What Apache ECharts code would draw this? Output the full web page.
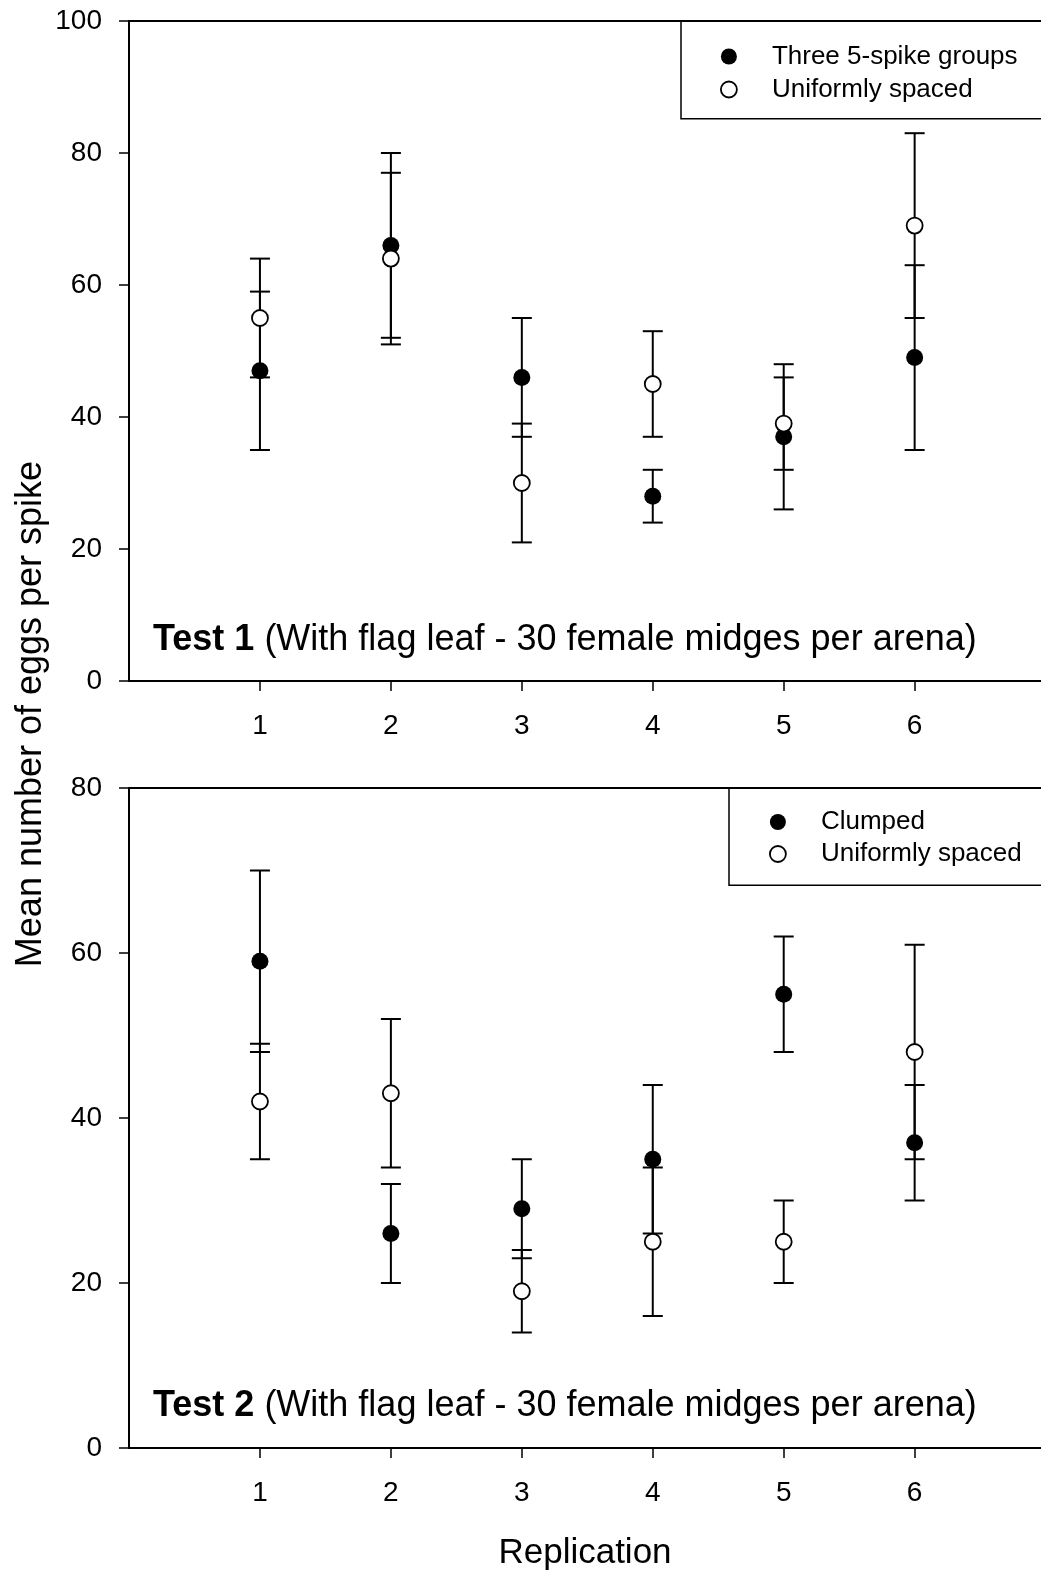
<!DOCTYPE html>
<html>
<head>
<meta charset="utf-8">
<script src="https://cdn.jsdelivr.net/npm/echarts@6/dist/echarts.min.js"></script>
<style>
  html, body { margin: 0; padding: 0; background: #fff; }
  #chart { width: 1041px; height: 1572px; }
</style>
</head>
<body>
<div id="chart"></div>
<script>
// replication numbers (x positions)
var reps = [1, 2, 3, 4, 5, 6];
var tickLabels = [1, 2, 3, 4, 5, 6];

// Test 1 - means and error (half-width)
var t1Grouped = [47, 66, 46, 28, 37, 49];
var t1GroupedErr = [12, 14, 9, 4, 11, 14];
var t1Uniform = [55, 64, 30, 45, 39, 69];
var t1UniformErr = [9, 13, 9, 8, 7, 14];

// Test 2
var t2Clumped = [59, 26, 29, 35, 55, 37];
var t2ClumpedErr = [11, 6, 6, 9, 7, 7];
var t2Uniform = [42, 43, 19, 25, 25, 48];
var t2UniformErr = [7, 9, 5, 9, 5, 13];

var FONT = '"Liberation Sans", Arial, Helvetica, sans-serif';
var X_MAX = 6.965; // axis runs off the right edge of the figure

function points(vals) {
  return reps.map(function (r, i) { return [r, vals[i]]; });
}
function bars(vals, errs) {
  return reps.map(function (r, i) { return [r, vals[i] - errs[i], vals[i] + errs[i]]; });
}

// vertical error bar with caps
function renderErrorBar(params, api) {
  var x = api.value(0);
  var hi = api.coord([x, api.value(2)]);
  var lo = api.coord([x, api.value(1)]);
  var w = 10;
  var st = { stroke: '#000', lineWidth: 2 };
  return {
    type: 'group',
    children: [
      { type: 'line', shape: { x1: hi[0], y1: hi[1], x2: lo[0], y2: lo[1] }, style: st },
      { type: 'line', shape: { x1: hi[0] - w, y1: hi[1], x2: hi[0] + w, y2: hi[1] }, style: st },
      { type: 'line', shape: { x1: lo[0] - w, y1: lo[1], x2: lo[0] + w, y2: lo[1] }, style: st }
    ]
  };
}

function xAxisFor(gridIndex, extra) {
  var ax = {
    type: 'value',
    gridIndex: gridIndex,
    min: 0,
    max: X_MAX,
    interval: 1,
    splitLine: { show: false },
    axisLine: { lineStyle: { color: '#000', width: 2 } },
    axisTick: { length: 10, lineStyle: { color: '#000', width: 1.5 }, customValues: tickLabels },
    axisLabel: { color: '#000', fontSize: 28, fontFamily: FONT, margin: 31, customValues: tickLabels }
  };
  for (var k in extra) ax[k] = extra[k];
  return ax;
}

// plain line along the top of a panel
function topLine(gridIndex) {
  return {
    type: 'value',
    gridIndex: gridIndex,
    position: 'top',
    min: 0,
    max: X_MAX,
    splitLine: { show: false },
    axisLine: { show: true, lineStyle: { color: '#000', width: 2 } },
    axisTick: { show: false },
    axisLabel: { show: false }
  };
}

function yAxisFor(gridIndex, max) {
  return {
    type: 'value',
    gridIndex: gridIndex,
    min: 0,
    max: max,
    interval: 20,
    splitLine: { show: false },
    axisLine: { show: true, lineStyle: { color: '#000', width: 2 } },
    axisTick: { show: true, length: 10, lineStyle: { color: '#000', width: 1.5 } },
    axisLabel: { color: '#000', fontSize: 28, fontFamily: FONT, margin: 27 }
  };
}

var openStyle = { color: '#fff', borderColor: '#000', borderWidth: 1.8, opacity: 1 };
var filledStyle = { color: '#000', opacity: 1 };

var chart = echarts.init(document.getElementById('chart'));
chart.setOption({
  backgroundColor: '#fff',
  animation: false,
  grid: [
    { left: 129, top: 21, right: 0, height: 660 },
    { left: 129, top: 788, right: 0, height: 661 }
  ],
  xAxis: [
    xAxisFor(0, {}),
    xAxisFor(1, {
      name: 'Replication',
      nameLocation: 'middle',
      nameGap: 88,
      nameTextStyle: { color: '#000', fontSize: 35, fontFamily: FONT }
    }),
    topLine(0),
    topLine(1)
  ],
  yAxis: [yAxisFor(0, 100), yAxisFor(1, 80)],
  legend: [
    {
      left: 720,
      top: 43.5,
      padding: 0,
      orient: 'vertical',
      itemWidth: 16,
      itemHeight: 16,
      itemGap: 7,
      textStyle: { color: '#000', fontSize: 26, fontFamily: FONT, lineHeight: 26, padding: [0, 0, 0, 30] },
      data: [
        { name: 'Three 5-spike groups', icon: 'circle', itemStyle: filledStyle },
        { name: 'Uniformly spaced', icon: 'circle', itemStyle: openStyle }
      ]
    },
    {
      left: 769,
      top: 809,
      padding: 0,
      orient: 'vertical',
      itemWidth: 16,
      itemHeight: 16,
      itemGap: 6,
      textStyle: { color: '#000', fontSize: 26, fontFamily: FONT, lineHeight: 26, padding: [0, 0, 0, 30] },
      data: [
        { name: 'Clumped', icon: 'circle', itemStyle: filledStyle },
        { name: 'Uniformly spaced', icon: 'circle', itemStyle: openStyle }
      ]
    }
  ],
  graphic: [
    { type: 'rect', shape: { x: 681, y: 21, width: 420, height: 97.7 }, style: { fill: 'none', stroke: '#000', lineWidth: 1.5 }, z: 10 },
    { type: 'rect', shape: { x: 729, y: 788, width: 372, height: 97.3 }, style: { fill: 'none', stroke: '#000', lineWidth: 1.5 }, z: 10 },
    {
      type: 'text', x: 153, y: 640, z: 10,
      style: {
        text: '{b|Test 1} (With flag leaf - 30 female midges per arena)',
        fill: '#000', fontSize: 36, fontFamily: FONT, verticalAlign: 'middle',
        rich: { b: { fontWeight: 'bold', fontSize: 36, fontFamily: FONT, fill: '#000' } }
      }
    },
    {
      type: 'text', x: 153, y: 1406, z: 10,
      style: {
        text: '{b|Test 2} (With flag leaf - 30 female midges per arena)',
        fill: '#000', fontSize: 36, fontFamily: FONT, verticalAlign: 'middle',
        rich: { b: { fontWeight: 'bold', fontSize: 36, fontFamily: FONT, fill: '#000' } }
      }
    },
    {
      type: 'text', x: 31, y: 714, rotation: Math.PI / 2, z: 10,
      style: {
        text: 'Mean number of eggs per spike',
        fill: '#000', fontSize: 36, fontFamily: FONT, align: 'center', verticalAlign: 'middle'
      }
    }
  ],
  series: [
    // Test 1 error bars
    { type: 'custom', xAxisIndex: 0, yAxisIndex: 0, renderItem: renderErrorBar, data: bars(t1Grouped, t1GroupedErr), z: 1 },
    { type: 'custom', xAxisIndex: 0, yAxisIndex: 0, renderItem: renderErrorBar, data: bars(t1Uniform, t1UniformErr), z: 1 },
    {
      name: 'Three 5-spike groups', type: 'scatter', xAxisIndex: 0, yAxisIndex: 0,
      symbol: 'circle', symbolSize: 17, itemStyle: filledStyle, data: points(t1Grouped), z: 3
    },
    {
      name: 'Uniformly spaced', type: 'scatter', xAxisIndex: 0, yAxisIndex: 0,
      symbol: 'circle', symbolSize: 16, itemStyle: openStyle, data: points(t1Uniform), z: 4
    },
    // Test 2 error bars
    { type: 'custom', xAxisIndex: 1, yAxisIndex: 1, renderItem: renderErrorBar, data: bars(t2Clumped, t2ClumpedErr), z: 1 },
    { type: 'custom', xAxisIndex: 1, yAxisIndex: 1, renderItem: renderErrorBar, data: bars(t2Uniform, t2UniformErr), z: 1 },
    {
      name: 'Clumped', type: 'scatter', xAxisIndex: 1, yAxisIndex: 1,
      symbol: 'circle', symbolSize: 17, itemStyle: filledStyle, data: points(t2Clumped), z: 3
    },
    {
      name: 'Uniformly spaced', type: 'scatter', xAxisIndex: 1, yAxisIndex: 1,
      symbol: 'circle', symbolSize: 16, itemStyle: openStyle, data: points(t2Uniform), z: 4
    }
  ]
});
</script>
</body>
</html>
